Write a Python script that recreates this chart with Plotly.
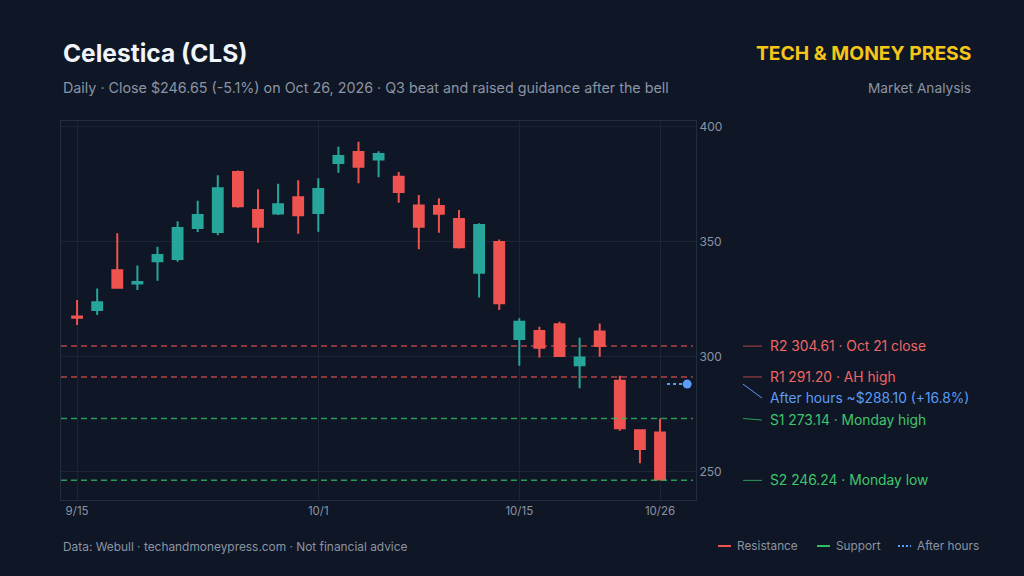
import plotly.graph_objects as go

# ---------------- data ----------------
dates = ["9/15", "9/16", "9/17", "9/18", "9/21", "9/22", "9/23", "9/24", "9/25", "9/28",
         "9/29", "9/30", "10/1", "10/2", "10/5", "10/6", "10/7", "10/8", "10/9", "10/12",
         "10/13", "10/14", "10/15", "10/16", "10/19", "10/20", "10/21", "10/22", "10/23", "10/26"]
opens = [317.5, 320.3, 337.6, 331.8, 341.5, 342.5, 356.0, 354.2, 380.3, 363.8,
         362.3, 369.3, 362.5, 384.2, 389.0, 385.8, 378.3, 365.8, 365.5, 359.9,
         336.5, 349.9, 307.7, 311.2, 314.1, 296.3, 311.0, 289.6, 268.0, 267.0]
highs = [324.7, 329.7, 353.7, 339.7, 347.8, 358.9, 367.8, 378.9, 381.0, 372.8,
         375.2, 376.7, 377.6, 391.3, 393.5, 389.3, 380.3, 370.3, 368.9, 363.8,
         358.0, 351.0, 316.7, 313.0, 315.2, 308.3, 314.5, 291.7, 268.1, 273.14]
lows = [313.8, 318.1, 329.7, 329.0, 333.0, 341.3, 354.2, 352.8, 364.8, 349.6,
        361.6, 353.5, 354.3, 380.0, 375.4, 378.0, 367.0, 346.7, 353.9, 347.1,
        325.8, 320.3, 296.1, 299.7, 300.0, 286.3, 300.0, 267.8, 253.7, 246.24]
closes = [317.0, 323.7, 330.0, 332.5, 344.2, 356.0, 361.6, 373.3, 365.4, 356.5,
          366.3, 361.5, 372.9, 387.3, 382.6, 388.1, 371.6, 356.5, 362.2, 347.6,
          357.3, 323.2, 315.2, 303.9, 300.3, 299.7, 304.61, 268.9, 259.9, 246.65]

tick_dates = ["9/15", "10/1", "10/15", "10/26"]
y_ticks = [250, 300, 350, 400]

levels = [
    ("R2", 304.61, "Oct 21 close", "res"),
    ("R1", 291.20, "AH high", "res"),
    ("S1", 273.14, "Monday high", "sup"),
    ("S2", 246.24, "Monday low", "sup"),
]
after_hours_price = 288.10
after_hours_pct = 16.8

# ---------------- styles ----------------
BG = "#0f1626"
GRID = "#1b2535"
FRAME = "#222d3f"
UP = "#26a69a"
DOWN = "#ef5350"
RES_LINE = "rgba(239,83,80,0.75)"
SUP_LINE = "rgba(46,190,100,0.8)"
RES_TXT = "#f06666"
SUP_TXT = "#3fc76c"
AH = "#5b9cf5"
MUTED = "#8b94a3"
FONT = "Inter"

x = list(range(len(dates)))
last = x[-1]

fig = go.Figure()
fig.add_trace(go.Candlestick(
    x=x, open=opens, high=highs, low=lows, close=closes,
    increasing=dict(line=dict(color=UP, width=2), fillcolor=UP),
    decreasing=dict(line=dict(color=DOWN, width=2), fillcolor=DOWN),
    whiskerwidth=0, showlegend=False, hoverinfo="skip",
))

# level lines
for name, val, desc, kind in levels:
    col = RES_LINE if kind == "res" else SUP_LINE
    fig.add_shape(type="line", xref="paper", x0=0, x1=0.995, yref="y", y0=val, y1=val,
                  line=dict(color=col, width=1.5, dash="6px,4px"), layer="above")

# after hours
ah_x = [last + 0.35, last + 1.35]
fig.add_trace(go.Scatter(x=ah_x, y=[after_hours_price] * 2, mode="lines",
                         line=dict(color=AH, width=2, dash="dot"),
                         showlegend=False, hoverinfo="skip"))
fig.add_trace(go.Scatter(x=[ah_x[1]], y=[after_hours_price], mode="markers",
                         marker=dict(color=AH, size=9),
                         showlegend=False, hoverinfo="skip"))

# right-side labels with leader lines
PW = 635.0
def px2paper(px):
    return (px - 61) / PW

lx0, lx1, tx = px2paper(743), px2paper(762), px2paper(768)
label_items = []
for name, val, desc, kind in levels:
    col = RES_TXT if kind == "res" else SUP_TXT
    lcol = RES_LINE if kind == "res" else SUP_LINE
    shift = -1.5 if name == "S1" else 0
    label_items.append((f"{name} {val:.2f} · {desc}", val, col, lcol, shift))

for text, val, col, lcol, shift in label_items:
    fig.add_shape(type="line", xref="paper", yref="y", x0=lx0, x1=lx1,
                  y0=val, y1=val + shift / 2.3, line=dict(color=lcol, width=1))
    fig.add_annotation(xref="paper", yref="y", x=tx, y=val, yshift=shift,
                       text=text, showarrow=False, xanchor="left", yanchor="middle",
                       font=dict(family=FONT, size=13.8, color=col))

ah_shift = -14
fig.add_shape(type="line", xref="paper", yref="y", x0=lx0, x1=lx1,
              y0=after_hours_price, y1=after_hours_price + ah_shift / 2.3,
              line=dict(color=AH, width=1))
fig.add_annotation(xref="paper", yref="y", x=tx, y=after_hours_price, yshift=ah_shift,
                   text=f"After hours ~${after_hours_price:.2f} (+{after_hours_pct}%)",
                   showarrow=False, xanchor="left", yanchor="middle",
                   font=dict(family=FONT, size=13.8, color=AH))

# header
def py2paper(py):
    return (500 - py) / 379.0

fig.add_annotation(xref="paper", yref="paper", x=px2paper(61), y=py2paper(53),
                   text="<b>Celestica (CLS)</b>", showarrow=False, xanchor="left", yanchor="middle",
                   font=dict(family=FONT, size=24.5, color="#f1f5f9"))
fig.add_annotation(xref="paper", yref="paper", x=px2paper(61), y=py2paper(88),
                   text="Daily · Close $246.65 (-5.1%) on Oct 26, 2026 · Q3 beat and raised guidance after the bell",
                   showarrow=False, xanchor="left", yanchor="middle",
                   font=dict(family=FONT, size=14.3, color=MUTED))
fig.add_annotation(xref="paper", yref="paper", x=px2paper(973), y=py2paper(53),
                   text="<b>TECH &amp; MONEY PRESS</b>", showarrow=False, xanchor="right", yanchor="middle",
                   font=dict(family=FONT, size=19.3, color="#f5c518"))
fig.add_annotation(xref="paper", yref="paper", x=px2paper(973), y=py2paper(88),
                   text="Market Analysis", showarrow=False, xanchor="right", yanchor="middle",
                   font=dict(family=FONT, size=13.7, color=MUTED))

# footer
fig.add_annotation(xref="paper", yref="paper", x=px2paper(61), y=py2paper(546),
                   text="Data: Webull · techandmoneypress.com · Not financial advice",
                   showarrow=False, xanchor="left", yanchor="middle",
                   font=dict(family=FONT, size=11.9, color=MUTED))

legend_items = [("Resistance", DOWN, "solid", 718), ("Support", "#2ebe64", "solid", 817),
                ("After hours", AH, "dot", 898)]
for label, col, dash, px0 in legend_items:
    fig.add_shape(type="line", xref="paper", yref="paper",
                  x0=px2paper(px0), x1=px2paper(px0 + 13), y0=py2paper(546), y1=py2paper(546),
                  line=dict(color=col, width=2, dash="2px,2px" if dash == "dot" else "solid"))
    fig.add_annotation(xref="paper", yref="paper", x=px2paper(px0 + 17), y=py2paper(546),
                       text=label, showarrow=False, xanchor="left", yanchor="middle",
                       font=dict(family=FONT, size=11.8, color=MUTED))

fig.update_layout(
    width=1024, height=576,
    margin=dict(l=61, r=328, t=121, b=76),
    paper_bgcolor=BG, plot_bgcolor=BG,
    font=dict(family=FONT, color=MUTED),
    showlegend=False,
    xaxis=dict(range=[-0.8, last + 1.79], rangeslider=dict(visible=False),
               tickvals=[dates.index(d) for d in tick_dates], ticktext=tick_dates,
               showgrid=True, gridcolor=GRID, gridwidth=1, zeroline=False,
               showline=True, linecolor=FRAME, mirror=True, ticks="",
               tickfont=dict(family=FONT, size=11.5, color=MUTED)),
    yaxis=dict(range=[237.7, 402.5], side="right", tickvals=y_ticks,
               showgrid=True, gridcolor=GRID, gridwidth=1, zeroline=False,
               showline=True, linecolor=FRAME, mirror=True, ticks="",
               tickfont=dict(family=FONT, size=12, color=MUTED)),
)

fig.write_html("out.html")
